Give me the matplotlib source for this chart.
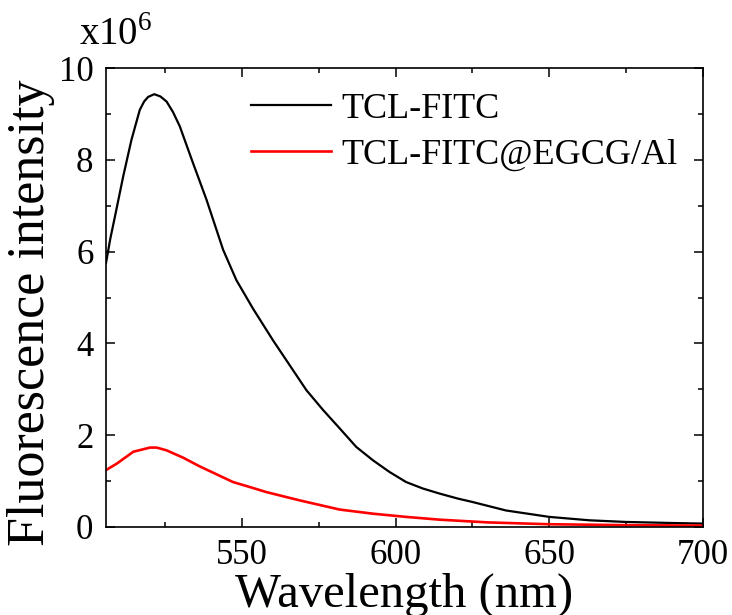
import matplotlib
matplotlib.use("Agg")
import matplotlib.pyplot as plt
from matplotlib.ticker import MultipleLocator

plt.rcParams['font.family'] = ['Liberation Serif', 'DejaVu Serif']
plt.rcParams['mathtext.fontset'] = 'custom'
plt.rcParams['mathtext.rm'] = 'Liberation Serif'

# Emission spectra (intensity in units of 1e6)
wl_fitc = [505.8, 507.2, 508.7, 511.4, 514.1, 516.8, 518.2, 519.5, 521.5, 523.5,
           525.5, 527.6, 529.8, 534.1, 538.5, 543.9, 548.2, 553.6, 560.1, 565.5,
           571.0, 576.4, 581.8, 587.2, 592.6, 598.0, 603.4, 608.8, 614.2, 620.2,
           625.0, 635.9, 650.0, 663.0, 674.9, 690.0, 700.0]
int_fitc = [5.75, 6.28, 6.76, 7.64, 8.44, 9.09, 9.27, 9.37, 9.43, 9.38,
            9.27, 9.04, 8.73, 7.93, 7.13, 6.04, 5.38, 4.76, 4.07, 3.53,
            2.98, 2.55, 2.15, 1.745, 1.455, 1.20, 0.98, 0.84, 0.73, 0.62,
            0.545, 0.36, 0.22, 0.146, 0.11, 0.087, 0.074]

wl_coat = [505.8, 509.3, 514.7, 520.1, 522.3, 525.5, 530.9, 536.3, 541.7, 547.1,
           552.6, 558.0, 568.8, 581.8, 592.6, 603.4, 614.2, 630.0, 650.0, 675.0,
           700.0]
int_coat = [1.24, 1.38, 1.64, 1.73, 1.73, 1.67, 1.51, 1.32, 1.15, 0.98,
            0.87, 0.76, 0.58, 0.38, 0.29, 0.22, 0.16, 0.10, 0.06, 0.04,
            0.03]

labels = ["TCL-FITC", "TCL-FITC@EGCG/Al"]
colors = ["black", "#ff0000"]

fig = plt.figure(figsize=(7.32, 6.15), dpi=100)
ax = fig.add_axes([0.1448, 0.1431, 0.8156, 0.7463])

ax.plot(wl_fitc, int_fitc, color=colors[0], lw=1.6, label=labels[0])
ax.plot(wl_coat, int_coat, color=colors[1], lw=1.9, label=labels[1])

ax.set_xlim(505.8, 700)
ax.set_ylim(0, 10)
ax.xaxis.set_major_locator(MultipleLocator(50))
ax.xaxis.set_minor_locator(MultipleLocator(25))
ax.yaxis.set_major_locator(MultipleLocator(2))
ax.yaxis.set_minor_locator(MultipleLocator(1))
ax.tick_params(which='both', direction='in', top=True, right=True,
               width=1.1, labelsize=25, pad=9)
ax.tick_params(which='major', length=6.5)
ax.tick_params(which='minor', length=3.5)
ax.tick_params(top=True, right=True, labeltop=False, labelright=False)
for s in ax.spines.values():
    s.set_linewidth(1.2)

ax.set_xlabel("Wavelength (nm)", fontsize=35, labelpad=0)
ax.set_ylabel("Fluorescence intensity", fontsize=37.5)
ax.yaxis.set_label_coords(-0.086, 0.466)

ax.text(-0.045, 1.03, r"x10$^{6}$", transform=ax.transAxes, fontsize=28,
        ha='left', va='bottom')

ax.legend(loc='upper left', bbox_to_anchor=(0.243, 0.947), frameon=False,
          fontsize=26, handlelength=2.2, handletextpad=0.3, labelspacing=0.36,
          borderaxespad=0, borderpad=0)

fig.savefig("out.png", dpi=100)
